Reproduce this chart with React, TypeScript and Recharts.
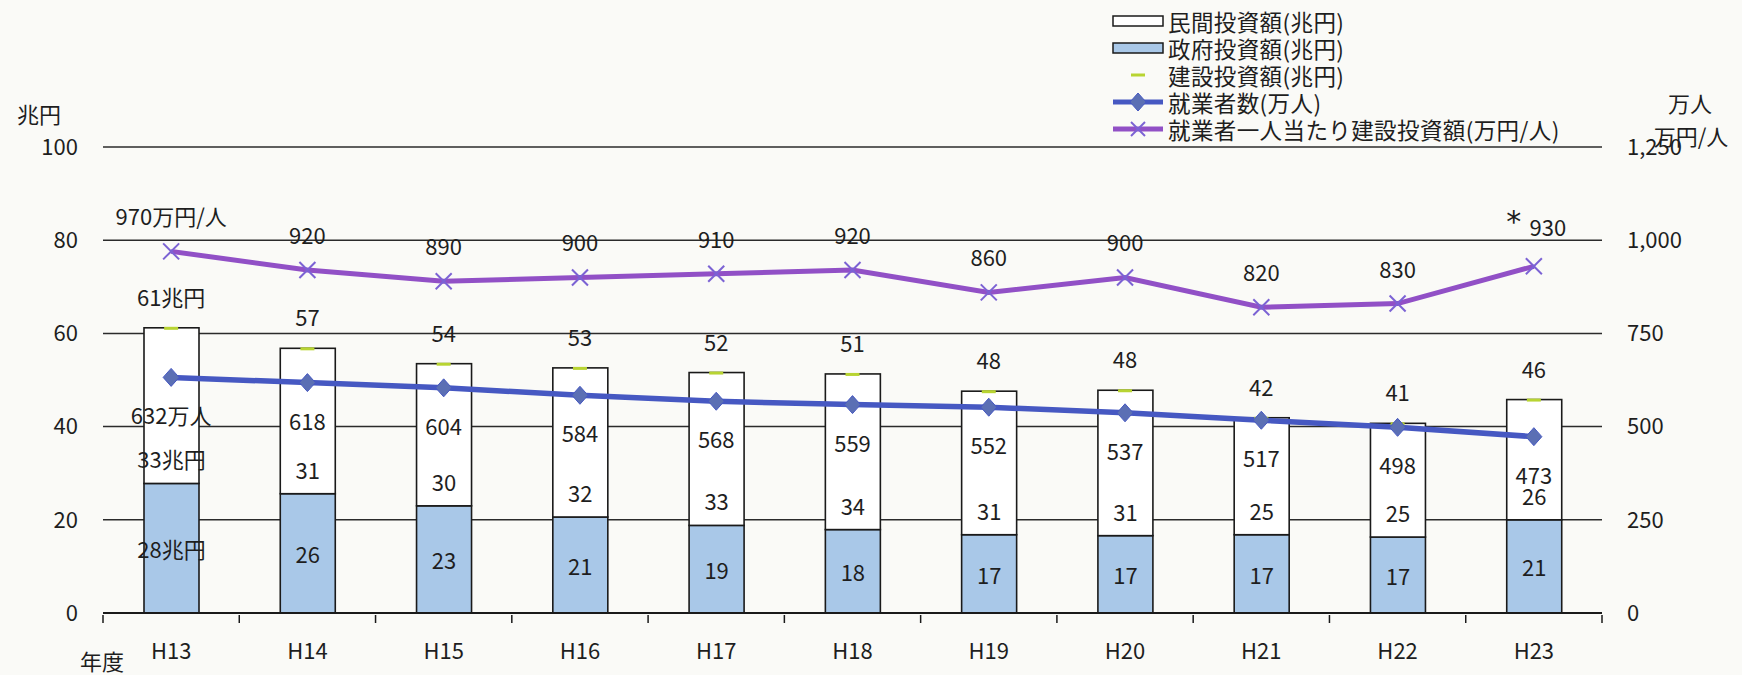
import React from 'react';
import { ComposedChart, Bar, Line, XAxis, YAxis, CartesianGrid } from 'recharts';

// ---- data ----
const years = ['H13', 'H14', 'H15', 'H16', 'H17', 'H18', 'H19', 'H20', 'H21', 'H22', 'H23'];
const govInvestment = [27.8, 25.6, 23.0, 20.6, 18.8, 17.9, 16.8, 16.6, 16.8, 16.3, 20.0];
const privInvestment = [33.4, 31.2, 30.5, 32.0, 32.8, 33.4, 30.8, 31.2, 25.1, 24.4, 25.8];
const constructionInvestment = [61.2, 56.8, 53.5, 52.6, 51.6, 51.3, 47.6, 47.8, 41.9, 40.7, 45.8];
const workers = [632, 618, 604, 584, 568, 559, 552, 537, 517, 498, 473];
const perWorker = [970, 920, 890, 900, 910, 920, 860, 900, 820, 830, 930];

const govLabels = ['28兆円', '26', '23', '21', '19', '18', '17', '17', '17', '17', '21'];
const privLabels = ['33兆円', '31', '30', '32', '33', '34', '31', '31', '25', '25', '26'];
const totalLabels = ['61兆円', '57', '54', '53', '52', '51', '48', '48', '42', '41', '46'];
const workerLabels = ['632万人', '618', '604', '584', '568', '559', '552', '537', '517', '498', '473'];
const perWorkerLabels = ['970万円/人', '920', '890', '900', '910', '920', '860', '900', '820', '830', '*930'];

const leftTicks = [0, 20, 40, 60, 80, 100];
const rightTicks = [0, 250, 500, 750, 1000, 1250];

const legendItems = ['民間投資額(兆円)', '政府投資額(兆円)', '建設投資額(兆円)', '就業者数(万人)', '就業者一人当たり建設投資額(万円/人)'];

// ---- layout / style ----
const W = 1742;
const H = 675;
const PLOT_LEFT = 103;
const PLOT_RIGHT = 1602;
const PLOT_TOP = 147;
const PLOT_BOTTOM = 613;
const BAND = (PLOT_RIGHT - PLOT_LEFT) / years.length;
const FONT = '"Noto Sans CJK JP", "Noto Sans", sans-serif';
const TXT = '#1e1e1e';
const FS = 22;
const GOV_FILL = '#a9c8e8';
const PRIV_FILL = '#ffffff';
const EDGE = '#1a1a1a';
const GREEN = '#b8d432';
const BLUE = '#4658c2';
const DIAMOND = '#5b6fb4';
const PURPLE = '#9150c6';
const XMARK = '#7b62d4';

const data = years.map((year, i) => ({
  year,
  gov: govInvestment[i],
  priv: privInvestment[i],
  construction: constructionInvestment[i],
  workers: workers[i],
  perWorker: perWorker[i],
  idx: i,
}));

const idxOf = (p: any) => (typeof p.index === 'number' ? p.index : p.payload?.idx ?? 0);

const GovShape = (p: any) => {
  const { x, y, width, height } = p;
  const i = idxOf(p);
  return (
    <g>
      <rect x={x} y={y} width={width} height={height} fill={GOV_FILL} stroke={EDGE} strokeWidth={1.6} />
      <text x={x + width / 2} y={y + height / 2} textAnchor="middle" dominantBaseline="central" fontSize={FS} fill={TXT} fontFamily={FONT}>
        {govLabels[i]}
      </text>
    </g>
  );
};

const PrivShape = (p: any) => {
  const { x, y, width, height } = p;
  const i = idxOf(p);
  return (
    <g>
      <rect x={x} y={y} width={width} height={height} fill={PRIV_FILL} stroke={EDGE} strokeWidth={1.6} />
      <text x={x + width / 2} y={y + height - 25} textAnchor="middle" dominantBaseline="central" fontSize={FS} fill={TXT} fontFamily={FONT}>
        {privLabels[i]}
      </text>
    </g>
  );
};

const ConstructionDot = (p: any) => {
  const { cx, cy } = p;
  const i = idxOf(p);
  return (
    <g key={`c${i}`}>
      <rect x={cx - 7} y={cy - 1} width={14} height={3} fill={GREEN} />
      <text x={cx} y={cy - 32} textAnchor="middle" dominantBaseline="central" fontSize={FS} fill={TXT} fontFamily={FONT}>
        {totalLabels[i]}
      </text>
    </g>
  );
};

const WorkerDot = (p: any) => {
  const { cx, cy } = p;
  const i = idxOf(p);
  return (
    <g key={`w${i}`}>
      <polygon points={`${cx},${cy - 9} ${cx + 8},${cy} ${cx},${cy + 9} ${cx - 8},${cy}`} fill={DIAMOND} stroke={BLUE} strokeWidth={1} />
      <text x={cx} y={cy + 37} textAnchor="middle" dominantBaseline="central" fontSize={FS} fill={TXT} fontFamily={FONT}>
        {workerLabels[i]}
      </text>
    </g>
  );
};

const PerWorkerDot = (p: any) => {
  const { cx, cy } = p;
  const i = idxOf(p);
  const label = perWorkerLabels[i];
  const starred = label.startsWith('*');
  const txt = starred ? label.slice(1) : label;
  return (
    <g key={`p${i}`}>
      <line x1={cx - 8} y1={cy - 8} x2={cx + 8} y2={cy + 8} stroke={XMARK} strokeWidth={2} />
      <line x1={cx - 8} y1={cy + 8} x2={cx + 8} y2={cy - 8} stroke={XMARK} strokeWidth={2} />
      <text x={starred ? cx + 14 : cx} y={starred ? cy - 40 : cy - 36} textAnchor="middle" dominantBaseline="central" fontSize={FS} fill={TXT} fontFamily={FONT}>
        {txt}
      </text>
      {starred && (
        <text x={cx - 20} y={cy - 45} textAnchor="middle" dominantBaseline="central" fontSize={30} fill={TXT} fontFamily='"DejaVu Sans", sans-serif'>
          *
        </text>
      )}
    </g>
  );
};

const XTick = (p: any) => {
  const { x, y, payload } = p;
  const isLast = payload?.value === years[years.length - 1];
  return (
    <g>
      <line x1={x - BAND / 2} y1={y} x2={x - BAND / 2} y2={y + 8} stroke={EDGE} strokeWidth={1.5} />
      {isLast && <line x1={x + BAND / 2} y1={y} x2={x + BAND / 2} y2={y + 8} stroke={EDGE} strokeWidth={1.5} />}
      <text x={x} y={y + 34} textAnchor="middle" dominantBaseline="central" fontSize={FS} fill={TXT} fontFamily={FONT}>
        {payload?.value}
      </text>
    </g>
  );
};

const LegendIcon = ({ kind, cy }: { kind: number; cy: number }) => {
  const x0 = 1113;
  const x1 = 1163;
  const cx = (x0 + x1) / 2;
  if (kind === 0) return <rect x={x0} y={cy - 5} width={x1 - x0} height={10} fill={PRIV_FILL} stroke={EDGE} strokeWidth={1.5} />;
  if (kind === 1) return <rect x={x0} y={cy - 5} width={x1 - x0} height={10} fill={GOV_FILL} stroke={EDGE} strokeWidth={1.5} />;
  if (kind === 2) return <rect x={cx - 7} y={cy - 1.5} width={14} height={3} fill={GREEN} />;
  if (kind === 3)
    return (
      <g>
        <line x1={x0} y1={cy} x2={x1} y2={cy} stroke={BLUE} strokeWidth={5} />
        <polygon points={`${cx},${cy - 9} ${cx + 8},${cy} ${cx},${cy + 9} ${cx - 8},${cy}`} fill={DIAMOND} stroke={BLUE} strokeWidth={1} />
      </g>
    );
  return (
    <g>
      <line x1={x0} y1={cy} x2={x1} y2={cy} stroke={PURPLE} strokeWidth={5} />
      <line x1={cx - 7} y1={cy - 7} x2={cx + 7} y2={cy + 7} stroke={XMARK} strokeWidth={2} />
      <line x1={cx - 7} y1={cy + 7} x2={cx + 7} y2={cy - 7} stroke={XMARK} strokeWidth={2} />
    </g>
  );
};

export default function App() {
  const legendY = [21, 48, 75, 102, 129];
  return (
    <div style={{ position: 'absolute', left: 0, top: 0, width: W, height: H, background: '#fafaf7', fontFamily: FONT }}>
      <ComposedChart
        width={W}
        height={H}
        data={data}
        margin={{ top: PLOT_TOP, right: 0, left: 0, bottom: 0 }}
        style={{ fontFamily: FONT }}
      >
        <CartesianGrid yAxisId="left" vertical={false} horizontal stroke="#2b2b2b" strokeWidth={1.5} />
        <XAxis
          dataKey="year"
          interval={0}
          height={H - PLOT_BOTTOM}
          tickSize={0}
          tickLine={false}
          axisLine={{ stroke: EDGE, strokeWidth: 2 }}
          tick={<XTick />}
        />
        <YAxis
          yAxisId="left"
          domain={[0, 100]}
          ticks={leftTicks}
          width={PLOT_LEFT}
          axisLine={false}
          tickLine={false}
          tickSize={0}
          tickMargin={25}
          tick={{ fontSize: FS, fill: TXT, fontFamily: FONT }}
        />
        <YAxis
          yAxisId="right"
          orientation="right"
          domain={[0, 1250]}
          ticks={rightTicks}
          width={W - PLOT_RIGHT}
          axisLine={false}
          tickLine={false}
          tickSize={0}
          tickMargin={25}
          tickFormatter={(v: number) => v.toLocaleString('en-US')}
          tick={{ fontSize: FS, fill: TXT, fontFamily: FONT, textAnchor: 'start' }}
        />
        <Bar yAxisId="left" dataKey="gov" stackId="inv" barSize={55} shape={<GovShape />} isAnimationActive={false} />
        <Bar yAxisId="left" dataKey="priv" stackId="inv" barSize={55} shape={<PrivShape />} isAnimationActive={false} />
        <Line
          yAxisId="left"
          dataKey="construction"
          stroke="none"
          strokeWidth={0}
          dot={(p: any) => <ConstructionDot key={`cd${p.index}`} {...p} />}
          activeDot={false}
          isAnimationActive={false}
        />
        <Line
          yAxisId="right"
          dataKey="workers"
          type="linear"
          stroke={BLUE}
          strokeWidth={5.5}
          dot={(p: any) => <WorkerDot key={`wd${p.index}`} {...p} />}
          activeDot={false}
          isAnimationActive={false}
        />
        <Line
          yAxisId="right"
          dataKey="perWorker"
          type="linear"
          stroke={PURPLE}
          strokeWidth={5}
          dot={(p: any) => <PerWorkerDot key={`pd${p.index}`} {...p} />}
          activeDot={false}
          isAnimationActive={false}
        />
      </ComposedChart>
      <svg width={W} height={H} style={{ position: 'absolute', left: 0, top: 0, pointerEvents: 'none' }}>
        {legendItems.map((t, i) => (
          <g key={t}>
            <LegendIcon kind={i} cy={legendY[i]} />
            <text x={1168} y={legendY[i]} dominantBaseline="central" fontSize={22.5} letterSpacing={0.4} fill={TXT} fontFamily={FONT}>
              {t}
            </text>
          </g>
        ))}
        <text x={39} y={113} textAnchor="middle" dominantBaseline="central" fontSize={FS} fill={TXT} fontFamily={FONT}>兆円</text>
        <text x={1690} y={102} textAnchor="middle" dominantBaseline="central" fontSize={FS} fill={TXT} fontFamily={FONT}>万人</text>
        <text x={1691} y={135} textAnchor="middle" dominantBaseline="central" fontSize={FS} fill={TXT} fontFamily={FONT}>万円/人</text>
        <text x={102} y={660} textAnchor="middle" dominantBaseline="central" fontSize={FS} fill={TXT} fontFamily={FONT}>年度</text>
      </svg>
    </div>
  );
}
